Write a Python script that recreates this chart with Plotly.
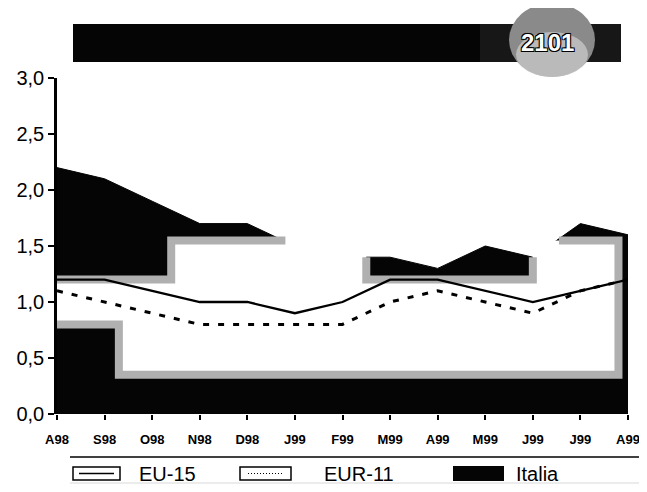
import plotly.graph_objects as go

# ---- data ----
months = ["A98", "S98", "O98", "N98", "D98", "J99", "F99", "M99", "A99", "M99", "J99", "J99", "A99"]
eu15 = [1.2, 1.2, 1.1, 1.0, 1.0, 0.9, 1.0, 1.2, 1.2, 1.1, 1.0, 1.1, 1.2]
eur11 = [1.1, 1.0, 0.9, 0.8, 0.8, 0.8, 0.8, 1.0, 1.1, 1.0, 0.9, 1.1, 1.2]
italia = [2.2, 2.1, 1.9, 1.7, 1.7, 1.5, 1.4, 1.4, 1.3, 1.5, 1.4, 1.7, 1.6]
y_ticks = [0.0, 0.5, 1.0, 1.5, 2.0, 2.5, 3.0]
y_ticktext = ["0,0", "0,5", "1,0", "1,5", "2,0", "2,5", "3,0"]

idx = list(range(len(months)))

# decorative scan artefact (white washed-out patch in the printed area)
patch_x = [1.3, 11.8, 11.8, 10.0, 10.0, 6.5, 6.5, 2.4, 2.4, 0, 0, 1.3, 1.3]
patch_y = [0.35, 0.35, 1.55, 1.55, 1.2, 1.2, 1.55, 1.55, 1.2, 1.2, 0.8, 0.8, 0.35]
edge_x = [0, 1.3, 1.3, 11.8, 11.8, 10.55, None, 10.0, 10.0, 6.5, 6.5, None, 4.8, 2.4, 2.4, 0]
edge_y = [0.8, 0.8, 0.35, 0.35, 1.55, 1.55, None, 1.4, 1.2, 1.2, 1.4, None, 1.55, 1.55, 1.2, 1.2]

fig = go.Figure()
fig.add_trace(go.Scatter(x=idx, y=italia, mode="lines", fill="tozeroy",
                         fillcolor="#050505", line=dict(color="#050505", width=1),
                         name="Italia", showlegend=False, hoverinfo="skip"))
fig.add_trace(go.Scatter(x=patch_x, y=patch_y, mode="lines", fill="toself",
                         fillcolor="white", line=dict(width=0), showlegend=False,
                         hoverinfo="skip"))
fig.add_trace(go.Scatter(x=edge_x, y=edge_y, mode="lines", connectgaps=False,
                         line=dict(color="#b0b0b0", width=8), showlegend=False,
                         hoverinfo="skip"))
fig.add_trace(go.Scatter(x=idx, y=eu15, mode="lines", name="EU-15",
                         line=dict(color="black", width=2.3), showlegend=False))
fig.add_trace(go.Scatter(x=idx, y=eur11, mode="lines", name="EUR-11",
                         line=dict(color="black", width=3, dash="6px,9px"), showlegend=False))

# page has an 8px body margin -> work in screen coordinates and shift
OFF = 8
W, H = 647 - OFF, 492 - 2 * OFF
PL, PR, PT, PB = 57, 628, 78, 414          # plot area in screen px
L, R, T, B = PL - OFF, W - (PR - OFF), PT - OFF, H - (PB - OFF)
pw, ph = W - L - R, H - T - B


def px(x):
    return (x - OFF - L) / pw


def py(y):
    return (H - B - (y - OFF)) / ph


shapes = [
    # banner
    dict(type="rect", xref="paper", yref="paper", x0=px(73), x1=px(621), y0=py(62), y1=py(24),
         fillcolor="#050505", line=dict(width=0)),
    dict(type="rect", xref="paper", yref="paper", x0=px(480), x1=px(621), y0=py(62), y1=py(24),
         fillcolor="#2a2a2a", line=dict(width=0), opacity=0.5),
    dict(type="circle", xref="paper", yref="paper", x0=px(509), x1=px(595), y0=py(77), y1=py(3),
         fillcolor="#8a8a8a", line=dict(width=0)),
    dict(type="circle", xref="paper", yref="paper", x0=px(516), x1=px(588), y0=py(77), y1=py(32),
         fillcolor="#cfcfcf", line=dict(width=0), opacity=0.7),
    # legend rules
    dict(type="line", xref="paper", yref="paper", x0=px(70), x1=px(647), y0=py(457), y1=py(457),
         line=dict(color="black", width=1.5)),
    dict(type="line", xref="paper", yref="paper", x0=px(70), x1=px(647), y0=py(483), y1=py(483),
         line=dict(color="#d8d8d8", width=1)),
    # legend keys
    dict(type="rect", xref="paper", yref="paper", x0=px(73), x1=px(120), y0=py(480), y1=py(467),
         fillcolor="white", line=dict(color="black", width=1.5)),
    dict(type="line", xref="paper", yref="paper", x0=px(79), x1=px(114), y0=py(473.5), y1=py(473.5),
         line=dict(color="black", width=1.5)),
    dict(type="rect", xref="paper", yref="paper", x0=px(240), x1=px(291), y0=py(480), y1=py(467),
         fillcolor="white", line=dict(color="black", width=1.5)),
    dict(type="line", xref="paper", yref="paper", x0=px(248), x1=px(283), y0=py(473.5), y1=py(473.5),
         line=dict(color="black", width=1, dash="1px,2px")),
    dict(type="rect", xref="paper", yref="paper", x0=px(453), x1=px(504), y0=py(481), y1=py(466),
         fillcolor="#050505", line=dict(width=0)),
]

font_main = "Liberation Sans, Arial, sans-serif"
annotations = [
    dict(text="2101", xref="paper", yref="paper", x=px(547), y=py(43), showarrow=False,
         xanchor="center", yanchor="middle",
         font=dict(family=font_main, size=24, color="white", weight="bold",
                   shadow="1px 1px 0 #000, -1px -1px 0 #000, 1px -1px 0 #000, -1px 1px 0 #000")),
    dict(text="EU-15", xref="paper", yref="paper", x=px(137), y=py(474), showarrow=False,
         xanchor="left", yanchor="middle", font=dict(family=font_main, size=20, color="black")),
    dict(text="EUR-11", xref="paper", yref="paper", x=px(322), y=py(474), showarrow=False,
         xanchor="left", yanchor="middle", font=dict(family=font_main, size=20, color="black")),
    dict(text="Italia", xref="paper", yref="paper", x=px(514), y=py(474), showarrow=False,
         xanchor="left", yanchor="middle", font=dict(family=font_main, size=20, color="black")),
]

fig.update_layout(
    width=W, height=H,
    margin=dict(l=L, r=R, t=T, b=B, pad=0, autoexpand=False),
    paper_bgcolor="white", plot_bgcolor="white",
    showlegend=False,
    shapes=shapes, annotations=annotations,
    xaxis=dict(range=[0, len(months) - 1], tickmode="array", tickvals=idx, ticktext=months,
               showgrid=False, zeroline=False, showline=False, automargin=False,
               ticks="outside", ticklen=5, tickwidth=2, tickcolor="black", ticklabelstandoff=8,
               tickfont=dict(family=font_main, size=13, color="black", weight="bold")),
    yaxis=dict(range=[0, 3], tickmode="array", tickvals=y_ticks, ticktext=y_ticktext,
               showgrid=False, zeroline=False, showline=True, linecolor="black", linewidth=2.5,
               ticks="outside", ticklen=6, tickwidth=2, tickcolor="black", automargin=False,
               tickfont=dict(family=font_main, size=20, color="black")),
)

fig.write_html("out.html")
